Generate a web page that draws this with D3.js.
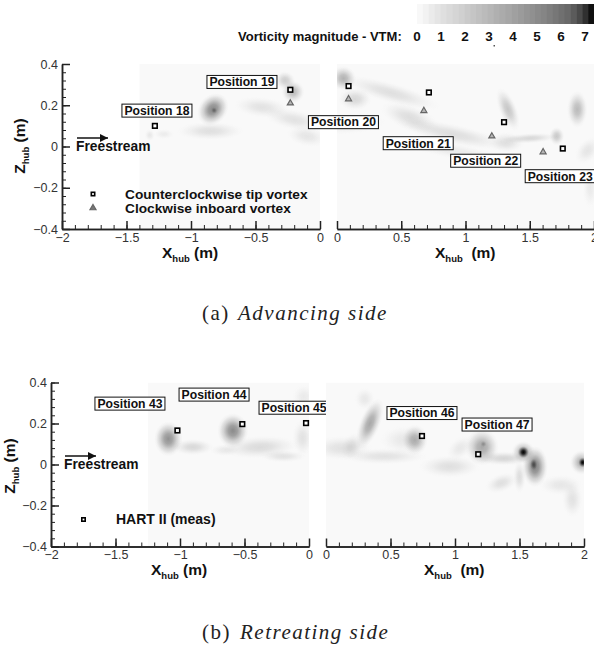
<!DOCTYPE html>
<html>
<head>
<meta charset="utf-8">
<script src="https://cdn.jsdelivr.net/npm/d3@7"></script>
<style>
	html, body { margin: 0; padding: 0; background: #fff; overflow: hidden; }
	svg { display: block; }
	text { font-family: 'Liberation Sans', Arial, sans-serif; }
	.tick text { font-size: 12.5px; fill: #333; }
	.bold { font-weight: bold; fill: #111; }
	.caption { font-family: 'Liberation Serif', serif; font-size: 21px; fill: #222; letter-spacing: 1.5px; }
</style>
</head>
<body>
<div id="chart"></div>
<script>
//data
const colorTicks = [0, 1, 2, 3, 4, 5, 6, 7];
const colorStops = [0, 1, 3, 5, 6, 6.5, 7];
const colorGrays = ['#fbfbfb', '#e0e0e0', '#b4b4b4', '#858585', '#686868', '#444444', '#000000'];
const xTicksLeft = [-2, -1.5, -1, -0.5, 0];
const xTicksRight = [0, 0.5, 1, 1.5, 2];
const zTicks = [-0.4, -0.2, 0, 0.2, 0.4];

// measured vortex positions [x, z]
const advLeftSquares = [[-1.28, 0.1], [-0.23, 0.275]];
const advLeftTriangles = [[-0.23, 0.21]];
const advRightSquares = [[0.09, 0.293], [0.715, 0.262], [1.3, 0.118], [1.757, -0.01]];
const advRightTriangles = [[0.09, 0.23], [0.676, 0.173], [1.205, 0.05], [1.604, -0.027]];
const retLeftSquares = [[-1.02, 0.166], [-0.517, 0.197], [-0.023, 0.202]];
const retRightSquares = [[0.744, 0.139], [1.18, 0.05]];

// position labels [text, x, z]
const advLeftLabels = [['Position 18', -1.264, 0.174], ['Position 19', -0.605, 0.313]];
const advRightLabels = [['Position 20', 0.05, 0.118], ['Position 21', 0.632, 0.016], ['Position 22', 1.157, -0.069], ['Position 23', 1.737, -0.144]];
const retLeftLabels = [['Position 43', -1.388, 0.297], ['Position 44', -0.736, 0.341], ['Position 45', -0.116, 0.277]];
const retRightLabels = [['Position 46', 0.744, 0.251], ['Position 47', 1.326, 0.195]];

// vorticity patches [x, z, halfWidthX, halfWidthZ, tilt deg, magnitude]
const advLeftField = [
	[-0.83, 0.18, 0.11, 0.085, 40, 4.8],
	[-0.82, 0.175, 0.025, 0.016, 0, 3],
	[-0.21, 0.265, 0.09, 0.055, 20, 2.5],
	[-0.27, 0.32, 0.08, 0.045, 20, 1.6],
	[-0.85, 0.075, 0.26, 0.045, 0, 0.8],
	[-0.45, 0.19, 0.22, 0.05, 6, 0.7],
	[-0.2, 0.13, 0.24, 0.05, 12, 0.7],
	[-0.1, 0.05, 0.16, 0.05, 10, 0.6],
	[-1.32, 0.055, 0.04, 0.03, 0, 0.5],
	[-1.21, 0.06, 0.08, 0.025, 0, 0.35]
];
const advRightField = [
	[0.05, 0.33, 0.1, 0.06, 25, 2.8],
	[0.14, 0.23, 0.13, 0.055, 0, 1.1],
	[0.42, 0.26, 0.4, 0.05, 16, 0.8],
	[0.57, 0.14, 0.24, 0.06, 20, 0.9],
	[0.9, 0.06, 0.45, 0.05, 12, 0.85],
	[0.1, 0.11, 0.28, 0.05, -5, 0.5],
	[0.9, -0.02, 0.4, 0.04, 10, 0.4],
	[1.33, 0.18, 0.07, 0.11, -22, 1.9],
	[1.87, 0.18, 0.08, 0.09, 0, 2.5],
	[1.71, 0.05, 0.06, 0.045, 0, 1.8],
	[1.5, 0.04, 0.22, 0.025, -3, 1.1],
	[1.32, 0.02, 0.14, 0.05, 0, 0.8],
	[1.95, -0.02, 0.12, 0.05, -50, 0.6],
	[1.97, -0.2, 0.06, 0.1, 0, 0.4]
];
const retLeftField = [
	[-1.09, 0.125, 0.11, 0.085, 0, 4.3],
	[-0.59, 0.165, 0.12, 0.085, 0, 4.6],
	[-0.9, 0.085, 0.16, 0.04, 0, 1.1],
	[-0.38, 0.085, 0.3, 0.055, -3, 0.95],
	[-0.2, 0.04, 0.18, 0.03, 0, 0.7],
	[-0.65, 0.07, 0.12, 0.03, 0, 0.45],
	[-0.05, 0.13, 0.08, 0.09, 0, 0.7],
	[-0.04, 0.33, 0.09, 0.06, 0, 0.4]
];
const retRightField = [
	[0.34, 0.2, 0.08, 0.13, 22, 3.4],
	[0.3, 0.32, 0.08, 0.055, 0, 0.5],
	[0.2, 0.09, 0.08, 0.07, 25, 0.6],
	[0.69, 0.12, 0.1, 0.075, 0, 2.9],
	[0.6, 0.12, 0.18, 0.07, 0, 0.5],
	[0.12, 0.08, 0.24, 0.06, 0, 0.75],
	[0.45, 0.04, 0.34, 0.04, 0, 0.7],
	[0.96, -0.01, 0.24, 0.055, 0, 0.8],
	[1.04, 0.08, 0.12, 0.05, -40, 0.5],
	[1.21, 0.085, 0.13, 0.09, 0, 3.4],
	[1.22, 0.1, 0.025, 0.016, 0, 2],
	[1.38, 0.03, 0.22, 0.035, 0, 1.2],
	[1.36, -0.09, 0.13, 0.045, -20, 0.8],
	[1.53, 0.06, 0.045, 0.03, 0, 7],
	[1.53, 0.06, 0.09, 0.055, 0, 3.2],
	[1.62, -0.01, 0.1, 0.1, 0, 5],
	[1.61, 0, 0.03, 0.03, 0, 5],
	[1.5, -0.06, 0.05, 0.08, 0, 0.9],
	[1.99, 0.01, 0.035, 0.025, 0, 7],
	[1.98, 0.01, 0.09, 0.06, 0, 3],
	[1.91, -0.17, 0.08, 0.09, 0, 0.7],
	[1.82, -0.1, 0.17, 0.05, 0, 0.55]
];

render();

function render() {
	const width = 594;
	const height = 646;

	const svg = d3
		.select('#chart')
		.append('svg')
		.attr('width', width)
		.attr('height', height);

	const defs = svg.append('defs');

	const colorScale = d3.scaleLinear().domain(colorStops).range(colorGrays);

	//color bar
	const barScale = d3.scaleLinear().domain([0, 7]).range([417, 594]);
	const stepCount = 30;
	const barSteps = d3.range(stepCount).map((i) => (i * 7) / stepCount);
	svg
		.append('g')
		.selectAll('rect')
		.data(barSteps)
		.enter()
		.append('rect')
		.attr('x', (d) => barScale(d))
		.attr('y', 4)
		.attr('width', barScale(7 / stepCount) - barScale(0) + 0.5)
		.attr('height', 20)
		.style('fill', (d) => colorScale(d + 7 / stepCount / 2));

	const labelScale = d3.scaleLinear().domain([0, 7]).range([417, 585]);
	svg
		.append('g')
		.selectAll('text')
		.data(colorTicks)
		.enter()
		.append('text')
		.attr('class', 'bold')
		.attr('x', (d) => labelScale(d))
		.attr('y', 40.5)
		.attr('text-anchor', 'middle')
		.style('font-size', '13.5px')
		.text((d) => d);

	svg
		.append('text')
		.attr('class', 'bold')
		.attr('x', 238)
		.attr('y', 40.5)
		.style('font-size', '13px')
		.text('Vorticity magnitude - VTM:');

	svg
		.append('rect')
		.attr('x', 493.5)
		.attr('y', 45)
		.attr('width', 1.5)
		.attr('height', 1.5)
		.style('fill', '#555');

	//panels
	const top1 = [64, 229];
	const top2 = [382.5, 546.5];

	drawPanel(svg, defs, colorScale, {
		id: 'a-left', xDomain: [-2, 0], xRange: [62, 320], yRange: top1, fieldStart: -1.4, yAxis: true,
		xTicks: xTicksLeft, field: advLeftField, squares: advLeftSquares, triangles: advLeftTriangles, labels: advLeftLabels,
		xLabelX: 162, xLabel: ' (m)', xLabelY: 258,
	});
	drawPanel(svg, defs, colorScale, {
		id: 'a-right', xDomain: [0, 2], xRange: [337, 594], yRange: top1, fieldStart: 0, yAxis: false,
		xTicks: xTicksRight, field: advRightField, squares: advRightSquares, triangles: advRightTriangles, labels: advRightLabels,
		xLabelX: 435, xLabel: '  (m)', xLabelY: 258,
	});
	drawPanel(svg, defs, colorScale, {
		id: 'b-left', xDomain: [-2, 0], xRange: [51, 309], yRange: top2, fieldStart: -1.25, yAxis: true,
		xTicks: xTicksLeft, field: retLeftField, squares: retLeftSquares, triangles: [], labels: retLeftLabels,
		xLabelX: 151, xLabel: ' (m)', xLabelY: 575,
	});
	drawPanel(svg, defs, colorScale, {
		id: 'b-right', xDomain: [0, 2], xRange: [326, 584], yRange: top2, fieldStart: 0, yAxis: false,
		xTicks: xTicksRight, field: retRightField, squares: retRightSquares, triangles: [], labels: retRightLabels,
		xLabelX: 424, xLabel: '  (m)', xLabelY: 575,
	});

	//annotations
	freestream(svg, defs, 'arrow-a', 77, 138, 76, 151);
	freestream(svg, defs, 'arrow-b', 65, 456, 64, 469);

	// legend top panel
	square(svg, 93, 194, 3.4);
	triangle(svg, 93, 208, '#777');
	plainText(svg, 125, 199, 'Counterclockwise tip vortex', 13.7);
	plainText(svg, 125, 213, 'Clockwise inboard vortex', 13.7);

	// legend bottom panel
	square(svg, 83.5, 519.5, 3.4);
	plainText(svg, 116, 524, 'HART II (meas)', 14);

	// z axis titles
	zTitle(svg, 25, 146);
	zTitle(svg, 15, 466);

	//captions
	caption(svg, 202, 238, 320, '(a)', 'Advancing side');
	caption(svg, 202, 240, 639, '(b)', 'Retreating side');
}

function drawPanel(svg, defs, colorScale, props) {
	const { id, xDomain, xRange, yRange, fieldStart, yAxis, xTicks, field, squares, triangles, labels, xLabelX, xLabel, xLabelY } = props;

	const x = d3.scaleLinear().domain(xDomain).range(xRange);
	const z = d3.scaleLinear().domain([0.4, -0.4]).range(yRange);

	const g = svg.append('g').attr('class', id);

	defs
		.append('clipPath')
		.attr('id', 'clip-' + id)
		.append('rect')
		.attr('x', x(fieldStart))
		.attr('y', yRange[0])
		.attr('width', xRange[1] - x(fieldStart))
		.attr('height', yRange[1] - yRange[0]);

	//field
	const fieldGroup = g
		.append('g')
		.attr('clip-path', `url(#clip-${id})`)
		.style('isolation', 'isolate');

	fieldGroup
		.append('rect')
		.attr('x', x(fieldStart))
		.attr('y', yRange[0])
		.attr('width', xRange[1] - x(fieldStart))
		.attr('height', yRange[1] - yRange[0])
		.style('fill', '#f9f9f9');

	field.forEach((d, i) => {
		const grad = defs
			.append('radialGradient')
			.attr('id', `patch-${id}-${i}`);
		const color = colorScale(d[5]);
		[[0, 1], [0.3, 0.8], [0.6, 0.35], [0.85, 0.07], [1, 0]].forEach((s) => {
			grad
				.append('stop')
				.attr('offset', s[0])
				.attr('stop-color', color)
				.attr('stop-opacity', s[1]);
		});
	});

	fieldGroup
		.selectAll('ellipse')
		.data(field)
		.enter()
		.append('ellipse')
		.attr('rx', (d) => Math.abs(x(d[2]) - x(0)))
		.attr('ry', (d) => Math.abs(z(d[3]) - z(0)))
		.attr('transform', (d) => `translate(${x(d[0])}, ${z(d[1])}) rotate(${d[4]})`)
		.style('fill', (d, i) => `url(#patch-${id}-${i})`)
		.style('mix-blend-mode', 'multiply');

	//axes
	const minorX = d3.range(xDomain[0], xDomain[1] + 0.01, 0.1).map((d) => +d.toFixed(1));
	const minorZ = d3.range(-0.4, 0.401, 0.04).map((d) => +d.toFixed(2));

	const xMinor = g
		.append('g')
		.attr('transform', translation(0, yRange[1]))
		.call(d3.axisBottom(x).tickValues(minorX).tickSize(-4).tickSizeOuter(0));
	const xMajor = g
		.append('g')
		.attr('transform', translation(0, yRange[1]))
		.call(d3.axisBottom(x).tickValues(xTicks).tickSize(-8).tickSizeOuter(0).tickPadding(4).tickFormat(d3.format('~g')));
	xMinor.selectAll('text').remove();
	styleAxis(xMinor, 1);
	styleAxis(xMajor, 1.5);

	if (yAxis) {
		const zMinor = g
			.append('g')
			.attr('transform', translation(xRange[0], 0))
			.call(d3.axisLeft(z).tickValues(minorZ).tickSize(-4).tickSizeOuter(0));
		const zMajor = g
			.append('g')
			.attr('transform', translation(xRange[0], 0))
			.call(d3.axisLeft(z).tickValues(zTicks).tickSize(-8).tickSizeOuter(0).tickPadding(4).tickFormat(d3.format('~g')));
		zMinor.selectAll('text').remove();
		styleAxis(zMinor, 1);
		styleAxis(zMajor, 1.5);
	}

	//markers
	triangles.forEach((d) => triangle(g, x(d[0]), z(d[1]), '#b5b5b5'));
	squares.forEach((d) => square(g, x(d[0]), z(d[1]), 4.6));

	//position labels
	const labelGroup = g
		.selectAll('.pos-label')
		.data(labels)
		.enter()
		.append('g')
		.attr('class', 'pos-label')
		.attr('transform', (d) => translation(x(d[1]), z(d[2])));
	labelGroup
		.append('rect')
		.attr('x', -35)
		.attr('y', -6.5)
		.attr('width', 70)
		.attr('height', 13)
		.style('fill', '#fff')
		.style('stroke', '#111')
		.style('stroke-width', 1);
	labelGroup
		.append('text')
		.attr('class', 'bold')
		.attr('text-anchor', 'middle')
		.attr('y', 4.3)
		.style('font-size', '12.2px')
		.text((d) => d[0]);

	//x title
	const title = g
		.append('text')
		.attr('class', 'bold')
		.attr('x', xLabelX)
		.attr('y', xLabelY)
		.style('font-size', '15.5px')
		.style('white-space', 'pre');
	title.append('tspan').text('X');
	title.append('tspan').attr('dy', 4).style('font-size', '9.5px').text('hub');
	title.append('tspan').attr('dy', -4).text(xLabel);
}

function styleAxis(axis, tickWidth) {
	axis.select('.domain').style('stroke', '#222').style('stroke-width', 1.5);
	axis.selectAll('.tick line').style('stroke', '#222').style('stroke-width', tickWidth);
}

function square(parent, cx, cy, size) {
	parent
		.append('rect')
		.attr('x', cx - size / 2)
		.attr('y', cy - size / 2)
		.attr('width', size)
		.attr('height', size)
		.style('fill', '#fff')
		.style('stroke', '#000')
		.style('stroke-width', 1.6);
}

function triangle(parent, cx, cy, fill) {
	parent
		.append('path')
		.attr('d', d3.symbol(d3.symbolTriangle, 16))
		.attr('transform', translation(cx, cy))
		.style('fill', fill)
		.style('stroke', '#666')
		.style('stroke-width', 1.2);
}

function plainText(svg, x, y, label, size) {
	svg
		.append('text')
		.attr('class', 'bold')
		.attr('x', x)
		.attr('y', y)
		.style('font-size', size + 'px')
		.text(label);
}

function freestream(svg, defs, id, ax, ay, tx, ty) {
	defs
		.append('marker')
		.attr('id', id)
		.attr('viewBox', '0 0 10 10')
		.attr('refX', 10)
		.attr('refY', 5)
		.attr('markerUnits', 'userSpaceOnUse')
		.attr('markerWidth', 9)
		.attr('markerHeight', 8)
		.attr('orient', 'auto')
		.append('path')
		.attr('d', 'M0,0L10,5L0,10Z')
		.style('fill', '#111');
	svg
		.append('line')
		.attr('x1', ax)
		.attr('x2', ax + 31)
		.attr('y1', ay)
		.attr('y2', ay)
		.attr('marker-end', `url(#${id})`)
		.style('stroke', '#111')
		.style('stroke-width', 1.5);
	plainText(svg, tx, ty, 'Freestream', 13.8);
}

function zTitle(svg, x, y) {
	const title = svg
		.append('text')
		.attr('class', 'bold')
		.attr('text-anchor', 'middle')
		.attr('transform', `${translation(x, y)} rotate(-90)`)
		.style('font-size', '15.5px');
	title.append('tspan').text('Z');
	title.append('tspan').attr('dy', 4).style('font-size', '9.5px').text('hub');
	title.append('tspan').attr('dy', -4).text(' (m)');
}

function caption(svg, tagX, labelX, y, tag, label) {
	svg
		.append('text')
		.attr('class', 'caption')
		.attr('x', tagX)
		.attr('y', y)
		.text(tag);
	svg
		.append('text')
		.attr('class', 'caption')
		.attr('x', labelX)
		.attr('y', y)
		.style('font-style', 'italic')
		.text(label);
}

//utils
function translation(x, y) {
	return `translate(${x}, ${y})`;
}
</script>
</body>
</html>
